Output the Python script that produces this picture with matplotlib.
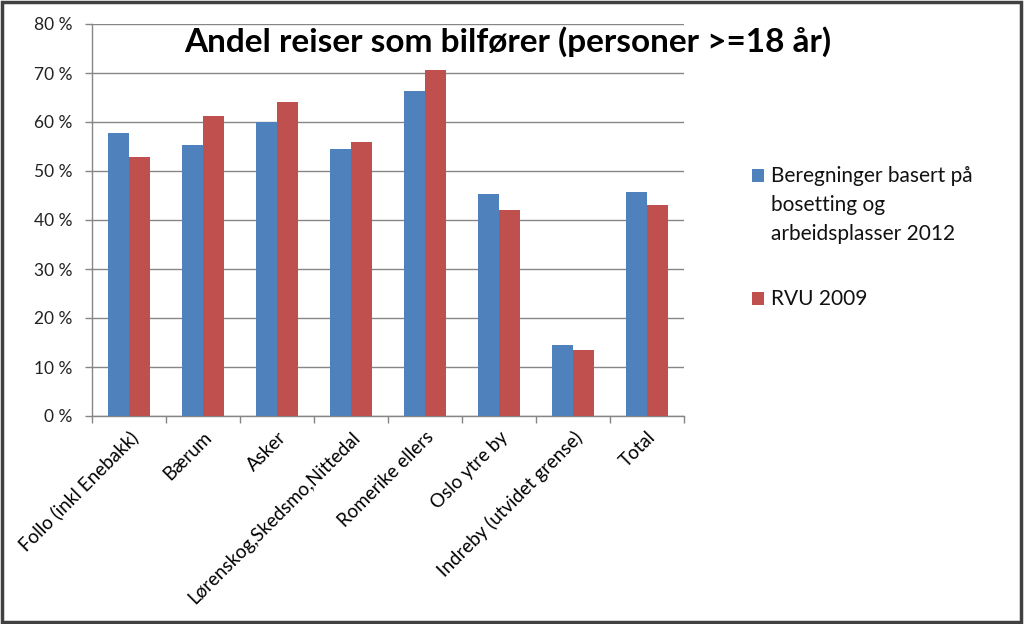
import matplotlib
matplotlib.use("Agg")
import matplotlib.pyplot as plt
import numpy as np
from matplotlib.patches import Rectangle
from matplotlib.ticker import FixedLocator, FuncFormatter

plt.rcParams['font.family'] = ['Lato', 'DejaVu Sans']

categories = ["Follo (inkl Enebakk)", "Bærum", "Asker", "Lørenskog,Skedsmo,Nittedal",
              "Romerike ellers", "Oslo ytre by", "Indreby (utvidet grense)", "Total"]
beregninger = [57.8, 55.4, 60.1, 54.5, 66.3, 45.4, 14.4, 45.8]
rvu2009 = [52.9, 61.2, 64.0, 56.0, 70.6, 42.1, 13.4, 43.1]
series_labels = ["Beregninger basert på\nbosetting og\narbeidsplasser 2012", "RVU 2009"]
title = "Andel reiser som bilfører (personer >=18 år)"

blue = "#4F81BD"
red = "#C0504D"
grid_c = "#868686"

fig = plt.figure(figsize=(10.24, 6.24), dpi=100)
ax = fig.add_axes([92/1024, 1 - 416/624, (684-92)/1024, (416-24)/624])

x = np.arange(len(categories))
w = 0.284
ax.bar(x - w/2, beregninger, w, color=blue, zorder=3, label=series_labels[0])
ax.bar(x + w/2, rvu2009, w, color=red, zorder=3, label=series_labels[1])

ax.set_xlim(-0.5, len(categories) - 0.5)
ax.set_ylim(0, 80)
ax.yaxis.set_major_locator(FixedLocator(np.arange(0, 81, 10)))
ax.yaxis.set_major_formatter(FuncFormatter(lambda v, p: f"{int(v)} %"))
ax.grid(axis='y', color=grid_c, linewidth=1.0, zorder=0)
ax.set_axisbelow(True)

ax.set_xticks(x)
ax.set_xticklabels(categories, rotation=45, ha='right', rotation_mode='anchor', fontsize=13.5)
ax.tick_params(axis='x', length=0, pad=9)
ax.set_xticks(np.arange(-0.5, len(categories), 1.0), minor=True)
ax.tick_params(axis='x', which='minor', length=5, color=grid_c, width=1)
ax.tick_params(axis='y', length=5, color=grid_c, width=1, labelsize=12.5, pad=9, labelcolor='#222222')

for s in ['top', 'right']:
    ax.spines[s].set_visible(False)
for s in ['left', 'bottom']:
    ax.spines[s].set_color(grid_c)
    ax.spines[s].set_linewidth(1)

fig.text(0.496, 1 - 42/624, title, ha='center', va='center', fontsize=24, fontweight='bold')

# legend drawn as squares + text (first line aligned with the marker, like the original)
H = 624.0
legend_tops = [169, 292]
line_step = 29
for color, label, top in zip([blue, red], series_labels, legend_tops):
    fig.patches.append(Rectangle((752/1024, 1 - (top + 13)/H), 12/1024, 13/H,
                                 transform=fig.transFigure, facecolor=color, edgecolor='none'))
    for i, line in enumerate(label.split("\n")):
        fig.text(771/1024, 1 - (top + 13 + i*line_step)/H, line, ha='left', va='baseline',
                 fontsize=15, color='#111111')

fig.patches.append(Rectangle((0.0015, 0.003), 0.996, 0.994, transform=fig.transFigure,
                             fill=False, edgecolor='#404040', linewidth=2.5))

fig.savefig("out.png", dpi=100)
